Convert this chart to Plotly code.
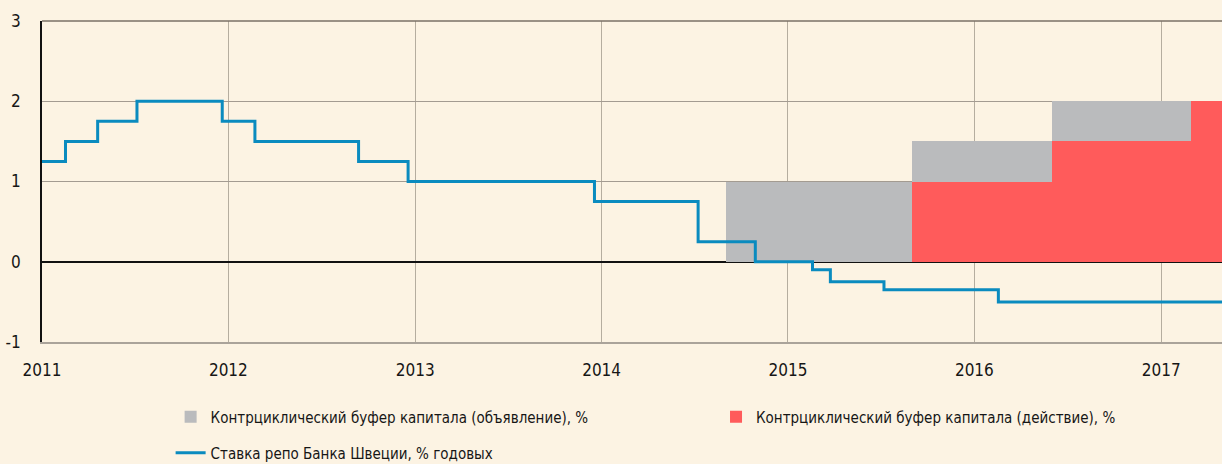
import plotly.graph_objects as go
import pandas as pd

# Repo rate of the Riksbank (step series), % per year
repo_dates = ["2011-01-01", "2011-02-16", "2011-04-20", "2011-07-06", "2011-12-20",
              "2012-02-22", "2012-09-12", "2012-12-18", "2013-12-18", "2014-07-09",
              "2014-10-29", "2015-02-18", "2015-03-25", "2015-07-08", "2016-02-17",
              "2017-05-01"]
repo_values = [1.25, 1.50, 1.75, 2.00, 1.75,
               1.50, 1.25, 1.00, 0.75, 0.25,
               0.00, -0.10, -0.25, -0.35, -0.50,
               -0.50]

# Countercyclical capital buffer - announcement (grey)
announce_start = ["2014-09-01", "2015-09-01", "2016-06-01"]
announce_end = ["2015-09-01", "2016-06-01", "2017-03-01"]
announce_values = [1.0, 1.5, 2.0]

# Countercyclical capital buffer - in effect (red)
action_start = ["2015-09-01", "2016-06-01", "2017-03-01"]
action_end = ["2016-06-01", "2017-03-01", "2017-06-01"]
action_values = [1.0, 1.5, 2.0]

year_ticks = ["2011-01-01", "2012-01-01", "2013-01-01", "2014-01-01",
              "2015-01-01", "2016-01-01", "2017-01-01"]
year_labels = ["2011", "2012", "2013", "2014", "2015", "2016", "2017"]
y_ticks = [-1, 0, 1, 2, 3]
y_labels = ["-1", "0", "1", "2", "3"]

FONT = "DejaVu Sans Condensed, Liberation Sans Narrow, sans-serif"
BG = "#fcf3e3"
TXT = "#161616"


def widths(starts, ends):
    return [(pd.Timestamp(e) - pd.Timestamp(s)).total_seconds() * 1000 for s, e in zip(starts, ends)]


fig = go.Figure()
fig.add_trace(go.Bar(
    x=announce_start, y=announce_values, width=widths(announce_start, announce_end),
    offset=0, base=0, marker=dict(color="#babbbd", line=dict(width=0)),
    name="Контрциклический буфер капитала (объявление), %", legend="legend"))
fig.add_trace(go.Bar(
    x=action_start, y=action_values, width=widths(action_start, action_end),
    offset=0, base=0, marker=dict(color="#ff5b5b", line=dict(width=0)),
    name="Контрциклический буфер капитала (действие), %", legend="legend3"))
fig.add_trace(go.Scatter(
    x=repo_dates, y=repo_values, mode="lines", line=dict(shape="hv", color="#0a8bbf", width=3),
    name="Ставка репо Банка Швеции, % годовых", legend="legend2"))

legend_common = dict(orientation="h", xanchor="left", yanchor="middle",
                     bgcolor="rgba(0,0,0,0)", borderwidth=0,
                     font=dict(family=FONT, size=15, color=TXT))

fig.update_layout(
    width=1222, height=464,
    margin=dict(l=42, r=0, t=21, b=122, autoexpand=False),
    paper_bgcolor=BG, plot_bgcolor=BG,
    barmode="overlay", bargap=0,
    font=dict(family=FONT, size=17, color=TXT),
    showlegend=True,
    legend=dict(x=0.109, y=-0.2336, **legend_common),
    legend3=dict(x=0.5712, y=-0.2336, **legend_common),
    legend2=dict(x=0.109, y=-0.3458, **legend_common),
    shapes=[dict(type="line", xref="paper", yref="paper", x0=0, x1=1, y0=1, y1=1,
                 line=dict(color="#7a7066", width=1.5), layer="above")],
)

fig.update_xaxes(
    type="date", range=["2011-01-01", "2017-04-30"], automargin=False,
    tickvals=year_ticks, ticktext=year_labels,
    showgrid=True, gridcolor="#b5ad9f", gridwidth=1.2,
    showline=True, linecolor="#aaa39a", linewidth=1.5,
    ticks="", ticklabelstandoff=12,
    tickfont=dict(family=FONT, size=17, color=TXT),
    zeroline=False,
)
fig.update_yaxes(
    range=[-1, 3], tickvals=y_ticks, ticktext=y_labels, automargin=False,
    showgrid=True, gridcolor="#a39b91", gridwidth=1.2,
    zeroline=True, zerolinecolor="#111111", zerolinewidth=1.5,
    showline=True, linecolor="#111111", linewidth=1.5,
    ticks="", ticklabelstandoff=16,
    tickfont=dict(family=FONT, size=17, color=TXT),
)

fig.write_html("out.html", config={"displayModeBar": False},
               post_script="document.body.style.margin='0';")
